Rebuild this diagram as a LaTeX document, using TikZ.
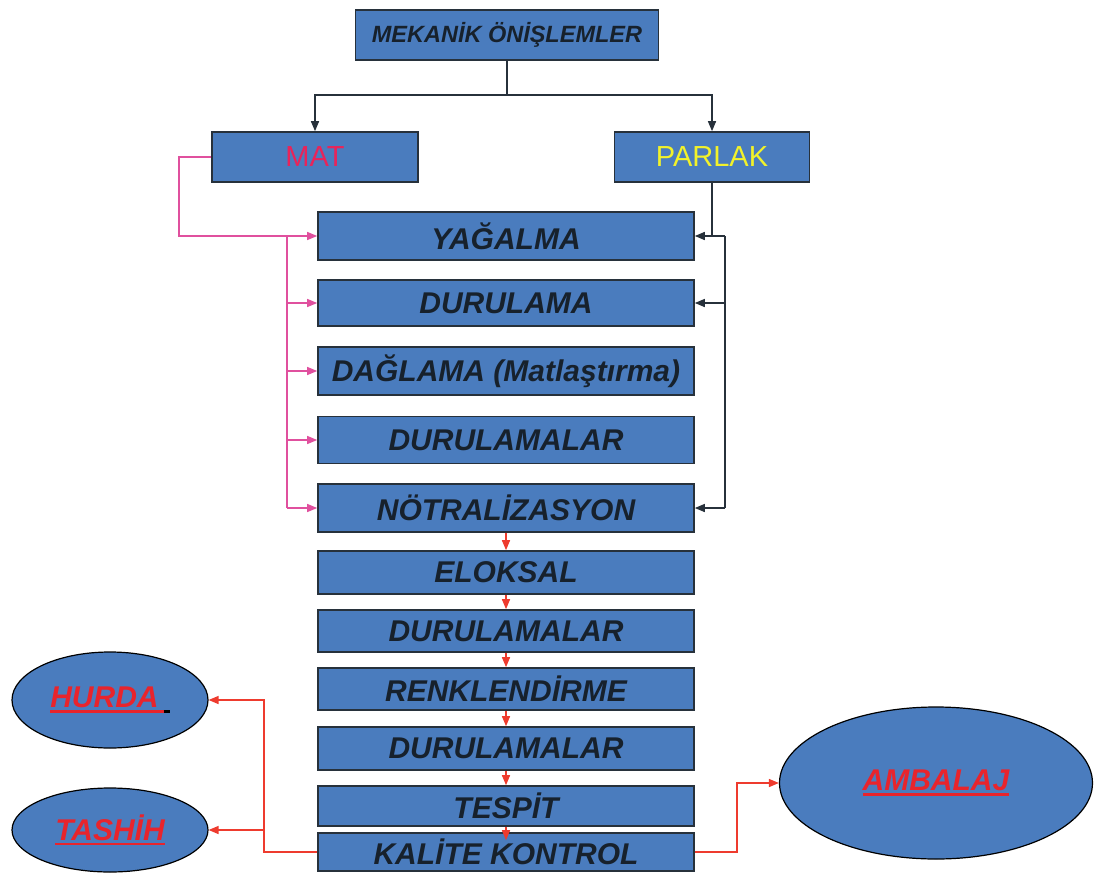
\documentclass[tikz,border=0pt]{standalone}
\usepackage{fontspec}
\setmainfont{Liberation Sans}
\usetikzlibrary{shapes.geometric,arrows.meta}
\definecolor{boxblue}{HTML}{4A7CBE}
\definecolor{txtdark}{HTML}{17212C}
\definecolor{lndark}{HTML}{27313B}
\definecolor{pinkline}{HTML}{E0509E}
\definecolor{redline}{HTML}{EE3B2E}
\definecolor{lblred}{HTML}{E8242C}
\definecolor{matpink}{HTML}{E8245A}
\definecolor{parlakyellow}{HTML}{F2F22A}
\newcommand\redul[1]{\setbox0\hbox{#1}\rlap{\rule[-5pt]{\wd0}{2.6pt}}\box0}
\begin{document}
\begin{tikzpicture}[x=1pt,y=-1pt,
  stepbox/.style={draw=lndark, line width=1.6pt, fill=boxblue, rectangle, inner sep=0pt,
    minimum width=376pt, font=\fontsize{30}{30}\selectfont\bfseries\itshape, text=txtdark},
  topbox/.style={stepbox, minimum width=303pt, minimum height=50pt, font=\fontsize{23.5}{24}\selectfont\bfseries\itshape},
  choicebox/.style={draw=lndark, line width=1.6pt, fill=boxblue, rectangle, inner sep=0pt,
    minimum height=50pt, font=\fontsize{29}{30}\selectfont},
  oval/.style={draw=black, line width=1.2pt, fill=boxblue, ellipse, inner sep=0pt,
    font=\fontsize{30}{30}\selectfont\bfseries\itshape, text=lblred},
  darkarrow/.style={draw=lndark, line width=1.4pt, -{Triangle[length=10pt,width=8pt]}},
  darkline/.style={draw=lndark, line width=1.4pt},
  pinkarrow/.style={draw=pinkline, line width=1.3pt, -{Triangle[length=10pt,width=8pt]}},
  pinkl/.style={draw=pinkline, line width=1.3pt},
  redarrow/.style={draw=redline, line width=1.5pt, -{Triangle[length=10pt,width=8pt]}},
  redl/.style={draw=redline, line width=1.5pt}]
\useasboundingbox (0,0) rectangle (1095,875);

% nodes
\node[topbox] (mek) at (507,35) {MEKAN\.IK \"ON\.I\c{S}LEMLER};
\node[choicebox, minimum width=206pt, text=matpink] (mat) at (315,157) {MAT};
\node[choicebox, minimum width=195pt, text=parlakyellow] (par) at (712,157) {PARLAK};

\node[stepbox, minimum height=48pt] (yag) at (506,236) {YA\u{G}ALMA};
\node[stepbox, minimum height=46pt] (dur) at (506,303) {DURULAMA};
\node[stepbox, minimum height=48pt] (dag) at (506,371) {DA\u{G}LAMA (Matla\c{s}t\i rma)};
\node[stepbox, minimum height=47pt] (durs1) at (506,440) {DURULAMALAR};
\node[stepbox, minimum height=48pt] (not) at (506,508) {N\"OTRAL\.IZASYON};
\node[stepbox, minimum height=43pt] (elo) at (506,572.5) {ELOKSAL};
\node[stepbox, minimum height=42pt] (durs2) at (506,631) {DURULAMALAR};
\node[stepbox, minimum height=42pt] (renk) at (506,689) {RENKLEND\.IRME};
\node[stepbox, minimum height=43pt] (durs3) at (506,748.5) {DURULAMALAR};
\node[stepbox, minimum height=40pt] (tes) at (506,806) {TESP\.IT};
\node[stepbox, minimum height=38pt] (kal) at (506,852) {KAL\.ITE KONTROL};

\node[oval, minimum width=196pt, minimum height=96pt] (hur) at (110,700)
  {\redul{HURDA\,}\textcolor{black}{\rule[-5pt]{6pt}{2.6pt}}};
\node[oval, minimum width=196pt, minimum height=84pt] (tas) at (110,830) {\redul{TASH\.IH}};
\node[oval, minimum width=313pt, minimum height=152pt] (amb) at (936,783) {\redul{AMBALAJ}};

% top split
\coordinate (mj) at (507,95);
\draw[darkline] (mek.south) -- (mj);
\draw[darkarrow] (mj) -| (mat.north);
\draw[darkarrow] (mj) -| (par.north);

% MAT route (pink)
\coordinate (pl) at (179,236);
\coordinate (pb1) at (287,236);
\coordinate (pb2) at (287,508);
\draw[pinkarrow] (mat.west) -| (pl) -- (yag.west);
\draw[pinkl] (pb1) -- (pb2);
\draw[pinkarrow] (pb1 |- dur.west) -- (dur.west);
\draw[pinkarrow] (pb1 |- dag.west) -- (dag.west);
\draw[pinkarrow] (pb1 |- durs1.west) -- (durs1.west);
\draw[pinkarrow] (pb2) -- (not.west);

% PARLAK route (dark)
\coordinate (rb1) at (725,236);
\coordinate (rb2) at (725,508);
\draw[darkline] (par.south) -- (par.south |- yag.east);
\draw[darkarrow] (rb1) -- (yag.east);
\draw[darkline] (rb1) -- (rb2);
\draw[darkarrow] (rb1 |- dur.east) -- (dur.east);
\draw[darkarrow] (rb2) -- (not.east);

% main chain (red)
\draw[redarrow] (not.south) -- (elo.north);
\draw[redarrow] (elo.south) -- (durs2.north);
\draw[redarrow] (durs2.south) -- (renk.north);
\draw[redarrow] (renk.south) -- (durs3.north);
\draw[redarrow] (durs3.south) -- (tes.north);
\draw[redarrow, shorten >=-8pt] (tes.south) -- (kal.north);

% quality control outputs
\coordinate (rj) at (264,700);
\coordinate (ra) at (737,783);
\draw[redarrow] (kal.west) -| (rj) -- (hur.east);
\draw[redarrow] (rj |- tas.east) -- (tas.east);
\draw[redarrow] (kal.east) -| (ra) -- (amb.west);
\end{tikzpicture}
\end{document}
